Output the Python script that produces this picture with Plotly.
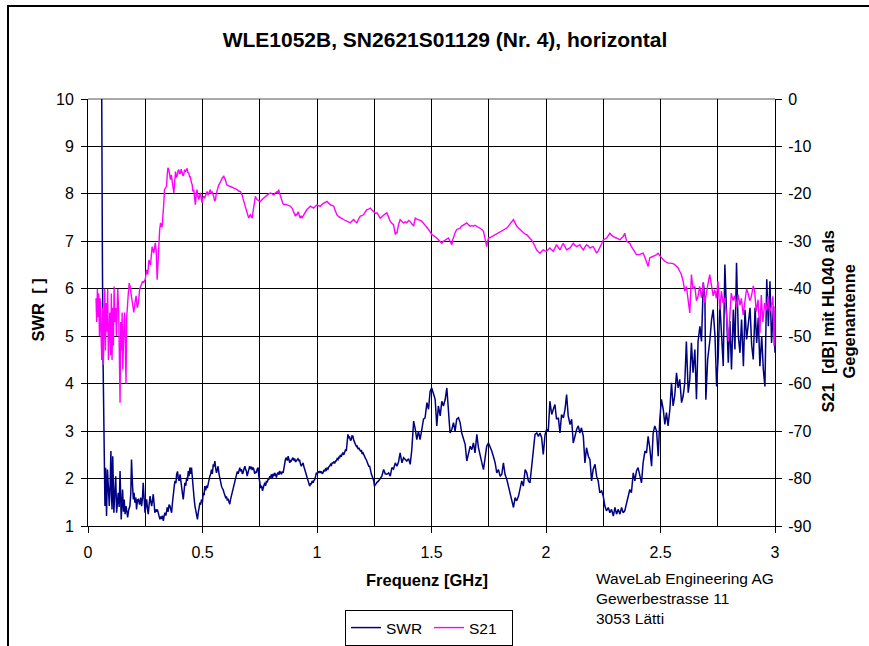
import plotly.graph_objects as go

# SWR trace: (frequency GHz, SWR)
swr_data = [
    (0.060, 10.0), (0.061, 7.3), (0.063, 6.5), (0.066, 4.4), (0.069, 3.0), (0.071, 2.3),
    (0.074, 1.42), (0.077, 2.23), (0.079, 1.5), (0.081, 1.21), (0.085, 2.19), (0.089, 1.6),
    (0.093, 1.42), (0.097, 1.9), (0.100, 2.58), (0.103, 1.6), (0.105, 1.35), (0.108, 2.47),
    (0.111, 1.8), (0.113, 1.28), (0.117, 1.7), (0.121, 2.05), (0.125, 1.28), (0.128, 1.5),
    (0.132, 1.70), (0.136, 1.4), (0.140, 2.16), (0.145, 1.14), (0.151, 1.77), (0.155, 1.3),
    (0.158, 1.56), (0.162, 1.25), (0.166, 1.42), (0.170, 1.3), (0.173, 1.18), (0.178, 1.35),
    (0.183, 1.42), (0.187, 1.7), (0.190, 2.40), (0.194, 1.9), (0.198, 1.56), (0.201, 1.7),
    (0.205, 1.49), (0.209, 1.6), (0.212, 1.35), (0.216, 1.55), (0.220, 1.56), (0.225, 1.45),
    (0.230, 1.6), (0.234, 1.42), (0.238, 1.6), (0.241, 1.91), (0.245, 1.5), (0.249, 1.28),
    (0.253, 1.45), (0.256, 1.56), (0.260, 1.35), (0.263, 1.25), (0.267, 1.45), (0.271, 1.63),
    (0.275, 1.5), (0.278, 1.42), (0.282, 1.55), (0.285, 1.67), (0.289, 1.45), (0.292, 1.28),
    (0.296, 1.35), (0.300, 1.3), (0.303, 1.35), (0.307, 1.25), (0.311, 1.2), (0.314, 1.14),
    (0.318, 1.2), (0.322, 1.15), (0.325, 1.22), (0.329, 1.11), (0.332, 1.2), (0.336, 1.28),
    (0.340, 1.22), (0.343, 1.35), (0.346, 1.39), (0.350, 1.3), (0.354, 1.45), (0.358, 1.42),
    (0.361, 1.35), (0.365, 1.28), (0.369, 1.5), (0.373, 1.77), (0.377, 1.85), (0.380, 1.95),
    (0.384, 1.9), (0.387, 2.09), (0.391, 2.15), (0.394, 2.02), (0.398, 1.95), (0.402, 2.09),
    (0.405, 2.0), (0.409, 1.84), (0.412, 1.7), (0.416, 1.56), (0.420, 1.75), (0.423, 1.91),
    (0.427, 1.85), (0.431, 2.02), (0.434, 1.95), (0.438, 2.16), (0.441, 2.05), (0.445, 2.23),
    (0.448, 2.1), (0.452, 2.23), (0.456, 2.0), (0.460, 1.84), (0.463, 1.6), (0.467, 1.42),
    (0.471, 1.3), (0.474, 1.2), (0.478, 1.14), (0.482, 1.3), (0.485, 1.4), (0.489, 1.49),
    (0.492, 1.45), (0.496, 1.56), (0.500, 1.5), (0.503, 1.70), (0.507, 1.65), (0.510, 1.84),
    (0.514, 1.75), (0.518, 1.85), (0.521, 1.8), (0.525, 1.91), (0.528, 1.95), (0.532, 2.05),
    (0.536, 2.1), (0.539, 2.19), (0.543, 2.1), (0.547, 2.30), (0.550, 2.25), (0.554, 2.37),
    (0.558, 2.2), (0.561, 2.12), (0.565, 2.2), (0.568, 2.26), (0.572, 2.1), (0.576, 1.98),
    (0.579, 1.9), (0.583, 1.84), (0.586, 1.8), (0.590, 1.77), (0.594, 1.7), (0.597, 1.63),
    (0.601, 1.6), (0.605, 1.62), (0.608, 1.55), (0.612, 1.56), (0.615, 1.5), (0.619, 1.46),
    (0.622, 1.55), (0.626, 1.63), (0.630, 1.7), (0.634, 1.77), (0.637, 1.85), (0.641, 1.91),
    (0.645, 2.0), (0.648, 2.05), (0.652, 2.15), (0.656, 2.1), (0.659, 2.2), (0.663, 2.23),
    (0.667, 2.15), (0.670, 2.2), (0.674, 2.1), (0.677, 2.12), (0.681, 2.2), (0.685, 2.26),
    (0.688, 2.2), (0.692, 2.15), (0.695, 2.05), (0.699, 2.12), (0.703, 2.2), (0.706, 2.26),
    (0.710, 2.2), (0.714, 2.25), (0.717, 2.18), (0.721, 2.23), (0.724, 2.2), (0.728, 2.1),
    (0.732, 2.15), (0.735, 2.12), (0.739, 2.2), (0.743, 2.23), (0.746, 2.05), (0.750, 1.91),
    (0.754, 1.8), (0.758, 1.85), (0.762, 1.74), (0.765, 1.8), (0.769, 1.88), (0.772, 1.91),
    (0.776, 1.85), (0.779, 1.95), (0.783, 1.92), (0.787, 2.0), (0.790, 1.98), (0.794, 2.05),
    (0.797, 2.02), (0.801, 2.09), (0.805, 2.0), (0.808, 2.1), (0.812, 2.05), (0.815, 2.12),
    (0.819, 2.08), (0.823, 2.02), (0.826, 2.1), (0.830, 2.12), (0.834, 2.08), (0.837, 2.16),
    (0.841, 2.12), (0.845, 2.09), (0.848, 2.15), (0.852, 2.12), (0.855, 2.2), (0.859, 2.33),
    (0.862, 2.4), (0.866, 2.44), (0.870, 2.38), (0.874, 2.47), (0.877, 2.4), (0.881, 2.33),
    (0.884, 2.38), (0.888, 2.37), (0.892, 2.42), (0.895, 2.44), (0.899, 2.38), (0.903, 2.42),
    (0.906, 2.35), (0.910, 2.37), (0.914, 2.4), (0.917, 2.42), (0.921, 2.38), (0.924, 2.40),
    (0.928, 2.3), (0.932, 2.26), (0.935, 2.3), (0.939, 2.33), (0.943, 2.25), (0.946, 2.2),
    (0.950, 2.15), (0.953, 2.12), (0.957, 2.05), (0.961, 1.98), (0.964, 1.9), (0.968, 1.84),
    (0.972, 1.9), (0.975, 1.88), (0.979, 1.95), (0.983, 1.91), (0.986, 1.95), (0.990, 1.98),
    (0.994, 2.05), (0.997, 2.12), (1.001, 2.1), (1.005, 2.15), (1.008, 2.12), (1.012, 2.16),
    (1.016, 2.12), (1.019, 2.15), (1.023, 2.1), (1.026, 2.12), (1.030, 2.18), (1.034, 2.15),
    (1.037, 2.2), (1.041, 2.18), (1.044, 2.22), (1.048, 2.2), (1.052, 2.25), (1.055, 2.26),
    (1.059, 2.3), (1.063, 2.28), (1.066, 2.33), (1.070, 2.33), (1.073, 2.36), (1.077, 2.32),
    (1.081, 2.37), (1.084, 2.37), (1.088, 2.42), (1.092, 2.4), (1.095, 2.45), (1.099, 2.44),
    (1.102, 2.5), (1.106, 2.46), (1.110, 2.52), (1.113, 2.54), (1.117, 2.5), (1.120, 2.56),
    (1.124, 2.6), (1.128, 2.58), (1.131, 2.7), (1.135, 2.93), (1.139, 2.85), (1.142, 2.89),
    (1.146, 2.8), (1.150, 2.82), (1.153, 2.9), (1.157, 2.89), (1.161, 2.8), (1.164, 2.75),
    (1.168, 2.72), (1.172, 2.68), (1.175, 2.7), (1.179, 2.62), (1.183, 2.65), (1.186, 2.61),
    (1.190, 2.58), (1.194, 2.6), (1.197, 2.52), (1.201, 2.54), (1.205, 2.48), (1.208, 2.45),
    (1.212, 2.42), (1.215, 2.40), (1.219, 2.35), (1.223, 2.3), (1.226, 2.26), (1.230, 2.26),
    (1.234, 2.15), (1.237, 2.1), (1.241, 2.05), (1.244, 2.02), (1.248, 1.95), (1.251, 1.84),
    (1.255, 1.88), (1.262, 1.92), (1.269, 1.95), (1.276, 2.0), (1.283, 2.05), (1.291, 2.19),
    (1.298, 2.1), (1.305, 2.09), (1.313, 2.12), (1.320, 2.05), (1.327, 2.23), (1.334, 2.2),
    (1.342, 2.33), (1.349, 2.26), (1.356, 2.35), (1.363, 2.54), (1.371, 2.33), (1.378, 2.44),
    (1.385, 2.4), (1.392, 2.37), (1.400, 2.42), (1.407, 2.30), (1.414, 2.61), (1.422, 3.21),
    (1.429, 3.04), (1.436, 2.82), (1.443, 3.00), (1.450, 2.82), (1.458, 3.04), (1.465, 3.25),
    (1.472, 3.28), (1.480, 3.60), (1.487, 3.46), (1.494, 3.84), (1.501, 3.91), (1.509, 3.77),
    (1.516, 3.67), (1.523, 3.11), (1.530, 3.53), (1.538, 3.32), (1.545, 3.63), (1.552, 3.53),
    (1.560, 3.67), (1.567, 3.91), (1.574, 3.39), (1.581, 2.96), (1.589, 3.04), (1.596, 3.18),
    (1.603, 3.00), (1.610, 3.25), (1.618, 3.28), (1.625, 3.18), (1.632, 2.96), (1.639, 2.82),
    (1.647, 2.72), (1.654, 2.37), (1.661, 2.54), (1.669, 2.68), (1.676, 2.61), (1.683, 2.75),
    (1.690, 2.54), (1.698, 2.93), (1.705, 2.65), (1.712, 2.47), (1.720, 2.33), (1.727, 2.19),
    (1.734, 2.44), (1.741, 2.68), (1.749, 2.75), (1.756, 2.68), (1.763, 2.58), (1.770, 2.47),
    (1.778, 2.33), (1.785, 2.12), (1.792, 2.19), (1.800, 2.05), (1.807, 2.09), (1.814, 2.33),
    (1.821, 2.09), (1.829, 1.98), (1.836, 1.84), (1.843, 1.70), (1.850, 1.56), (1.858, 1.39),
    (1.865, 1.60), (1.872, 1.53), (1.880, 1.63), (1.887, 1.77), (1.894, 1.95), (1.901, 1.84),
    (1.909, 2.19), (1.916, 2.12), (1.923, 1.95), (1.930, 1.91), (1.938, 2.33), (1.945, 2.54),
    (1.952, 2.93), (1.960, 2.96), (1.967, 2.89), (1.974, 2.96), (1.981, 2.86), (1.988, 2.51),
    (1.996, 2.93), (2.003, 3.04), (2.010, 3.00), (2.017, 3.63), (2.025, 3.35), (2.032, 3.46),
    (2.039, 3.56), (2.046, 3.25), (2.054, 3.28), (2.061, 2.96), (2.068, 3.35), (2.076, 3.28),
    (2.083, 3.46), (2.090, 3.77), (2.097, 3.32), (2.105, 3.14), (2.112, 3.25), (2.119, 2.75),
    (2.126, 2.89), (2.134, 3.04), (2.141, 3.11), (2.148, 2.96), (2.155, 3.07), (2.163, 2.89),
    (2.170, 2.33), (2.177, 2.65), (2.185, 2.47), (2.192, 2.40), (2.199, 1.95), (2.206, 2.19),
    (2.214, 2.30), (2.221, 2.05), (2.228, 1.95), (2.235, 1.70), (2.243, 1.74), (2.250, 1.63),
    (2.257, 1.42), (2.264, 1.32), (2.272, 1.39), (2.279, 1.28), (2.286, 1.35), (2.294, 1.21),
    (2.301, 1.39), (2.308, 1.25), (2.315, 1.35), (2.323, 1.25), (2.330, 1.39), (2.337, 1.28),
    (2.344, 1.32), (2.352, 1.49), (2.359, 1.63), (2.366, 1.77), (2.373, 1.70), (2.381, 2.12),
    (2.388, 1.95), (2.395, 2.16), (2.402, 2.23), (2.410, 2.05), (2.417, 1.91), (2.424, 2.33),
    (2.432, 2.58), (2.439, 2.54), (2.446, 2.89), (2.453, 2.65), (2.461, 2.26), (2.468, 2.96),
    (2.475, 3.11), (2.483, 3.00), (2.490, 2.47), (2.497, 3.25), (2.504, 3.67), (2.512, 3.46),
    (2.519, 3.14), (2.526, 3.39), (2.533, 3.11), (2.541, 3.46), (2.548, 4.02), (2.555, 3.53),
    (2.562, 3.74), (2.570, 4.23), (2.577, 3.91), (2.584, 4.09), (2.592, 3.60), (2.599, 3.74),
    (2.606, 4.02), (2.613, 4.89), (2.621, 3.81), (2.628, 4.09), (2.635, 4.86), (2.642, 4.23),
    (2.650, 4.72), (2.657, 3.67), (2.664, 4.89), (2.672, 5.21), (2.679, 4.89), (2.687, 6.13),
    (2.694, 5.77), (2.698, 3.66), (2.706, 4.51), (2.716, 4.93), (2.723, 5.35), (2.730, 5.56),
    (2.738, 5.00), (2.745, 3.94), (2.752, 4.58), (2.759, 5.70), (2.767, 5.00), (2.774, 4.37),
    (2.781, 6.51), (2.789, 5.42), (2.796, 4.44), (2.803, 5.32), (2.810, 4.30), (2.818, 5.56),
    (2.825, 4.72), (2.832, 6.55), (2.840, 5.00), (2.847, 4.65), (2.854, 5.35), (2.862, 4.37),
    (2.869, 5.56), (2.876, 4.93), (2.883, 5.21), (2.891, 5.60), (2.898, 4.82), (2.905, 4.51),
    (2.913, 5.60), (2.920, 4.86), (2.927, 5.39), (2.934, 4.37), (2.942, 5.00), (2.949, 4.30),
    (2.956, 3.94), (2.964, 6.20), (2.971, 5.21), (2.978, 6.16), (2.985, 4.86), (2.993, 5.63),
    (3.000, 4.65),
]

# S21 trace: (frequency GHz, dB)
s21_data = [
    (0.035, -42), (0.038, -47), (0.041, -40), (0.044, -46), (0.047, -41), (0.050, -50),
    (0.053, -42), (0.056, -48), (0.060, -55), (0.063, -44), (0.067, -56), (0.070, -47),
    (0.073, -40), (0.076, -53), (0.080, -43), (0.083, -49), (0.086, -40), (0.089, -55),
    (0.092, -46), (0.095, -45), (0.099, -54), (0.102, -41), (0.105, -55), (0.108, -44),
    (0.111, -52), (0.114, -39.5), (0.117, -47), (0.121, -44), (0.124, -50), (0.127, -42),
    (0.130, -40), (0.134, -45), (0.137, -52), (0.140, -64), (0.143, -47), (0.146, -53),
    (0.149, -45), (0.152, -57), (0.156, -49), (0.160, -45), (0.163, -52), (0.166, -60),
    (0.169, -46), (0.172, -43), (0.176, -41), (0.180, -38.8), (0.184, -39.5), (0.188, -41),
    (0.192, -42.5), (0.196, -44), (0.200, -45), (0.205, -43), (0.210, -41.5), (0.215, -44),
    (0.220, -43), (0.226, -40), (0.232, -39), (0.238, -38.5), (0.244, -38.6), (0.250, -38),
    (0.256, -36), (0.261, -37), (0.266, -33.9), (0.273, -35), (0.280, -31.1), (0.287, -32.5),
    (0.294, -30.3), (0.298, -32), (0.302, -38.1), (0.306, -34), (0.310, -30), (0.313, -27.5),
    (0.317, -26.1), (0.321, -27), (0.324, -26.8), (0.328, -24.7), (0.331, -22), (0.334, -19.1),
    (0.338, -18.6), (0.343, -18.4), (0.346, -16), (0.349, -14.5), (0.353, -14.9), (0.356, -16.5),
    (0.360, -17), (0.364, -16), (0.367, -17.7), (0.371, -18.5), (0.375, -19.8), (0.378, -17),
    (0.382, -15.3), (0.386, -16.5), (0.389, -16.3), (0.393, -15.2), (0.397, -14.9), (0.400, -15.8),
    (0.404, -15.6), (0.407, -14.8), (0.411, -15.3), (0.415, -16.2), (0.418, -15.9), (0.422, -14.9),
    (0.425, -15.3), (0.429, -14.8), (0.433, -14.6), (0.436, -15.5), (0.440, -15.6), (0.444, -16.5),
    (0.447, -16.3), (0.451, -17.5), (0.455, -18.1), (0.458, -19.5), (0.462, -19.1), (0.466, -21),
    (0.469, -22.3), (0.473, -20), (0.476, -19.1), (0.480, -20.5), (0.484, -21.2), (0.487, -20.5),
    (0.491, -19.8), (0.495, -21), (0.498, -21.9), (0.502, -20.8), (0.505, -20.5), (0.509, -20.9),
    (0.513, -20.2), (0.516, -19.8), (0.520, -19.5), (0.524, -20.3), (0.527, -19.8), (0.531, -19.3),
    (0.534, -19.1), (0.538, -20), (0.542, -19.5), (0.546, -20.2), (0.549, -20.5), (0.553, -21.5),
    (0.557, -21.2), (0.560, -20), (0.564, -19.1), (0.568, -18.5), (0.571, -18.1), (0.575, -17.8),
    (0.578, -17.4), (0.582, -17), (0.586, -16.7), (0.589, -16.5), (0.593, -16.3), (0.597, -16.8),
    (0.600, -17.0), (0.604, -17.8), (0.607, -18.1), (0.615, -18.3), (0.622, -18.4), (0.629, -18.6),
    (0.637, -18.8), (0.644, -18.9), (0.651, -19.1), (0.658, -19.4), (0.666, -19.5), (0.669, -19.8),
    (0.673, -20.2), (0.677, -21), (0.680, -21.6), (0.684, -22), (0.687, -22.6), (0.691, -23.3),
    (0.695, -24.0), (0.698, -24.5), (0.702, -25.1), (0.706, -24.6), (0.709, -24.4), (0.713, -24.8),
    (0.717, -25.1), (0.720, -24), (0.724, -22.6), (0.727, -21.5), (0.731, -20.5), (0.735, -21),
    (0.738, -21.2), (0.746, -21.4), (0.753, -21.6), (0.760, -21.2), (0.767, -20.9), (0.775, -20.5),
    (0.782, -20.2), (0.789, -20.0), (0.797, -19.8), (0.804, -20.1), (0.811, -20.2), (0.818, -19.8),
    (0.826, -19.5), (0.829, -19.9), (0.833, -19.1), (0.836, -19.8), (0.840, -20.5), (0.844, -21.2),
    (0.847, -21.6), (0.851, -22), (0.855, -22.3), (0.862, -22.2), (0.869, -22.3), (0.877, -22.5),
    (0.884, -22.6), (0.891, -23), (0.898, -23.7), (0.902, -24.2), (0.906, -24.7), (0.909, -24.3),
    (0.913, -24.4), (0.917, -23.8), (0.920, -24.0), (0.924, -24.8), (0.927, -25.1), (0.931, -24.6),
    (0.935, -25.1), (0.938, -24.8), (0.942, -24.4), (0.949, -23.8), (0.956, -23.3), (0.964, -22.9),
    (0.971, -22.6), (0.978, -22.8), (0.985, -23.0), (0.993, -22.6), (1.000, -22.3), (1.007, -22.5),
    (1.015, -22.6), (1.022, -22.2), (1.029, -21.9), (1.036, -21.8), (1.044, -21.6), (1.051, -22),
    (1.058, -22.3), (1.066, -22.4), (1.073, -22.6), (1.077, -23.2), (1.080, -23.7), (1.084, -24),
    (1.087, -24.4), (1.095, -24.8), (1.102, -25.1), (1.109, -25.2), (1.116, -25.4), (1.124, -25.6),
    (1.131, -25.8), (1.138, -26), (1.145, -26.1), (1.153, -25.7), (1.160, -25.4), (1.167, -25.8),
    (1.174, -26.1), (1.182, -25.3), (1.189, -24.7), (1.196, -24.6), (1.203, -24.4), (1.211, -23.8),
    (1.218, -23.3), (1.225, -23.2), (1.233, -23.0), (1.240, -23.4), (1.247, -23.7), (1.255, -24.1),
    (1.262, -24.0), (1.269, -24.5), (1.276, -25.1), (1.283, -24.8), (1.291, -24.4), (1.298, -24.2),
    (1.305, -24.0), (1.313, -25), (1.320, -25.8), (1.327, -26.2), (1.334, -26.5), (1.338, -27.5),
    (1.342, -28.6), (1.345, -28), (1.349, -28.3), (1.356, -26.5), (1.363, -25.4), (1.371, -25.8),
    (1.378, -26.1), (1.385, -25.9), (1.392, -26.1), (1.400, -25.6), (1.407, -25.8), (1.414, -26.3),
    (1.422, -26.8), (1.425, -26), (1.429, -25.1), (1.436, -25.3), (1.443, -25.4), (1.451, -25.6),
    (1.458, -25.8), (1.465, -26.2), (1.472, -26.5), (1.480, -27), (1.487, -27.5), (1.494, -28),
    (1.501, -28.6), (1.509, -28.8), (1.516, -29.0), (1.523, -29.3), (1.531, -29.7), (1.538, -30),
    (1.545, -30.4), (1.552, -30), (1.560, -29.7), (1.567, -29.5), (1.574, -29.3), (1.581, -30),
    (1.589, -30.7), (1.592, -29.8), (1.596, -29.0), (1.603, -28.2), (1.610, -27.5), (1.618, -27.4),
    (1.625, -27.2), (1.632, -26.8), (1.640, -26.5), (1.647, -26.3), (1.654, -26.1), (1.661, -26.5),
    (1.669, -26.8), (1.676, -26.7), (1.683, -26.8), (1.690, -26.6), (1.698, -26.8), (1.705, -27),
    (1.712, -27.2), (1.720, -27.5), (1.727, -27.9), (1.731, -29), (1.734, -30.0), (1.738, -30.6),
    (1.741, -31.1), (1.745, -30), (1.749, -29.3), (1.756, -29.2), (1.763, -29.0), (1.770, -28.8),
    (1.778, -28.6), (1.785, -28.5), (1.792, -28.3), (1.800, -28.1), (1.807, -27.9), (1.814, -27.7),
    (1.821, -27.5), (1.829, -27.2), (1.836, -26.8), (1.843, -26.3), (1.850, -25.8), (1.854, -25.6),
    (1.858, -25.4), (1.865, -26.1), (1.872, -26.8), (1.880, -27.2), (1.887, -27.5), (1.894, -27.9),
    (1.901, -28.3), (1.909, -28.5), (1.916, -28.6), (1.923, -29), (1.930, -29.3), (1.938, -29.8),
    (1.945, -30.4), (1.952, -31.1), (1.959, -31.8), (1.967, -32.2), (1.974, -32.5), (1.981, -32.1),
    (1.988, -31.8), (1.996, -32), (2.003, -32.1), (2.010, -31.7), (2.017, -31.4), (2.025, -31.8),
    (2.032, -32.1), (2.039, -31.4), (2.046, -30.7), (2.054, -31.3), (2.061, -31.8), (2.068, -31.1),
    (2.075, -30.4), (2.083, -31.1), (2.090, -31.8), (2.097, -31.6), (2.105, -31.4), (2.112, -30.9),
    (2.119, -30.4), (2.126, -30.8), (2.134, -31.1), (2.141, -30.9), (2.148, -30.7), (2.155, -31.3),
    (2.163, -31.8), (2.170, -31.2), (2.177, -30.7), (2.185, -31), (2.192, -31.4), (2.199, -31.2),
    (2.206, -31.1), (2.214, -31.8), (2.221, -32.5), (2.228, -32), (2.235, -31.4), (2.243, -30.5),
    (2.250, -29.7), (2.257, -29.5), (2.265, -29.3), (2.272, -28.8), (2.279, -28.3), (2.286, -28.7),
    (2.294, -29.0), (2.301, -29.2), (2.308, -29.3), (2.315, -29.5), (2.323, -29.7), (2.330, -29.3),
    (2.337, -29.0), (2.344, -28.3), (2.348, -29.2), (2.352, -30.0), (2.359, -30.2), (2.366, -30.4),
    (2.373, -31.1), (2.381, -31.8), (2.388, -32.3), (2.395, -32.8), (2.402, -32.8), (2.410, -32.8),
    (2.417, -32.6), (2.424, -32.5), (2.432, -33.4), (2.439, -34.2), (2.446, -35.3), (2.450, -34.3),
    (2.453, -33.5), (2.461, -33.3), (2.468, -33.2), (2.475, -33), (2.483, -32.8), (2.490, -32.5),
    (2.497, -33), (2.504, -33.5), (2.512, -33.9), (2.519, -34.2), (2.526, -34.4), (2.533, -34.6),
    (2.541, -34.6), (2.548, -34.6), (2.555, -34.7), (2.562, -34.9), (2.570, -35.2), (2.577, -35.6),
    (2.584, -36.3), (2.591, -37.0), (2.599, -38.4), (2.606, -40.5), (2.613, -39.5), (2.621, -43.0),
    (2.628, -45.1), (2.635, -37.0), (2.642, -40.0), (2.650, -39.5), (2.657, -42.5), (2.664, -41.6),
    (2.671, -39.5), (2.679, -41.9), (2.686, -38.7), (2.693, -43.0), (2.700, -40.5), (2.708, -38.8),
    (2.715, -37.0), (2.722, -39.5), (2.730, -41.5), (2.737, -40.2), (2.744, -42.0), (2.751, -38.4),
    (2.759, -44.4), (2.766, -40.5), (2.773, -43.0), (2.780, -42.0), (2.789, -45.8), (2.796, -51.1),
    (2.803, -44.5), (2.809, -40.9), (2.817, -42.5), (2.824, -41.5), (2.832, -44.0), (2.839, -41.3),
    (2.847, -43.5), (2.853, -42.0), (2.861, -45.5), (2.868, -42.3), (2.876, -40.0), (2.882, -40.9),
    (2.890, -42.5), (2.897, -41.6), (2.905, -39.4), (2.911, -40.5), (2.918, -44.8), (2.926, -42.3),
    (2.934, -49.3), (2.940, -41.3), (2.947, -47.0), (2.955, -43.0), (2.962, -44.5), (2.969, -41.6),
    (2.976, -45.0), (2.984, -43.7), (2.991, -41.6), (2.996, -52.1), (3.000, -43.7),
]

swr_freq = [p[0] for p in swr_data]
swr_vals = [p[1] for p in swr_data]
s21_freq = [p[0] for p in s21_data]
s21_vals = [p[1] for p in s21_data]

swr_ticks = [1, 2, 3, 4, 5, 6, 7, 8, 9, 10]
s21_ticks = [0, -10, -20, -30, -40, -50, -60, -70, -80, -90]
s21_tick_text = ["0", "-10", "-20", "-30", "-40", "-50", "-60", "-70", "-80", "-90"]

FONT = "Liberation Sans, Arial, sans-serif"

fig = go.Figure()
fig.add_trace(go.Scatter(x=swr_freq, y=swr_vals, mode="lines", name="SWR",
                         line=dict(color="#000080", width=1.5), yaxis="y"))
fig.add_trace(go.Scatter(x=s21_freq, y=s21_vals, mode="lines", name="S21",
                         line=dict(color="#FF00FF", width=1.4), yaxis="y2"))

fig.update_layout(
    width=869, height=646, autosize=False,
    margin=dict(l=88, r=94, t=99, b=120, pad=0, autoexpand=False),
    paper_bgcolor="white", plot_bgcolor="white",
    font=dict(family=FONT, size=16, color="black"),
    title=dict(text="<b>WLE1052B, SN2621S01129 (Nr. 4), horizontal</b>",
               x=445 / 869, xanchor="center", y=1 - 40 / 646, yanchor="middle",
               font=dict(size=21, family=FONT, color="black")),
    xaxis=dict(range=[0, 3], tick0=0, dtick=0.5, ticks="outside", ticklen=6,
               tickcolor="black", tickwidth=1, showline=True, linecolor="black", linewidth=1,
               showgrid=True, gridcolor="black", gridwidth=1, zeroline=False,
               minor=dict(tick0=0, dtick=0.25, showgrid=True, gridcolor="black", gridwidth=1, ticks=""),
               tickfont=dict(size=16), ticklabelstandoff=6),
    yaxis=dict(range=[1, 10], tickmode="array", tickvals=swr_ticks, ticks="outside", ticklen=6,
               tickcolor="black", showline=True, linecolor="black", linewidth=1,
               showgrid=True, gridcolor="black", gridwidth=1, zeroline=False,
               tickfont=dict(size=16), ticklabelstandoff=4),
    yaxis2=dict(range=[-90, 0], tickmode="array", tickvals=s21_ticks, ticktext=s21_tick_text,
                overlaying="y", side="right",
                ticks="outside", ticklen=6, tickcolor="black", showline=True, linecolor="black",
                linewidth=1, showgrid=False, zeroline=False, tickfont=dict(size=16),
                ticklabelstandoff=3),
    showlegend=True,
    legend=dict(orientation="h", x=(345 - 88) / 687, y=(526 - 610) / 427, xanchor="left", yanchor="top",
                bordercolor="black", borderwidth=1, bgcolor="white", font=dict(size=15.5),
                itemwidth=30, tracegroupgap=0, entrywidth=38, entrywidthmode="pixels"),
    shapes=[
        dict(type="line", xref="paper", yref="paper", x0=0, x1=1, y0=1, y1=1,
             line=dict(color="#8c8c8c", width=1.5), layer="between"),
        dict(type="rect", xref="paper", yref="paper", x0=(8 - 88) / 687, x1=1.25,
             y0=-0.4, y1=(526 - 6) / 427, line=dict(color="black", width=2), layer="below"),
    ],
    annotations=[
        dict(text="<b>SWR\u00a0\u00a0[ ]</b>", xref="paper", yref="paper",
             x=(37.5 - 88) / 687, y=(526 - 310) / 427, xanchor="center", yanchor="middle",
             textangle=-90, showarrow=False, font=dict(size=16.5)),
        dict(text="<b>Frequenz [GHz]</b>", xref="paper", yref="paper",
             x=(427 - 88) / 687, y=(526 - 580) / 427, xanchor="center", yanchor="middle",
             showarrow=False, font=dict(size=16.5)),
        dict(text="<b>S21\u00a0\u00a0[dB] mit HL040 als<br>Gegenantenne</b>", xref="paper", yref="paper",
             x=(837.5 - 88) / 687, y=(526 - 322) / 427, xanchor="center", yanchor="middle",
             textangle=-90, showarrow=False, font=dict(size=16.5), align="center"),
        dict(text="WaveLab Engineering AG<br>Gewerbestrasse 11<br>3053 Lätti", xref="paper", yref="paper",
             x=(594 - 88) / 687, y=(526 - 568) / 427, xanchor="left", yanchor="top", align="left",
             showarrow=False, font=dict(size=15.5)),
    ],
)

fig.write_html("out.html", config={"displayModeBar": False},
               post_script="document.body.style.margin='0px';")
